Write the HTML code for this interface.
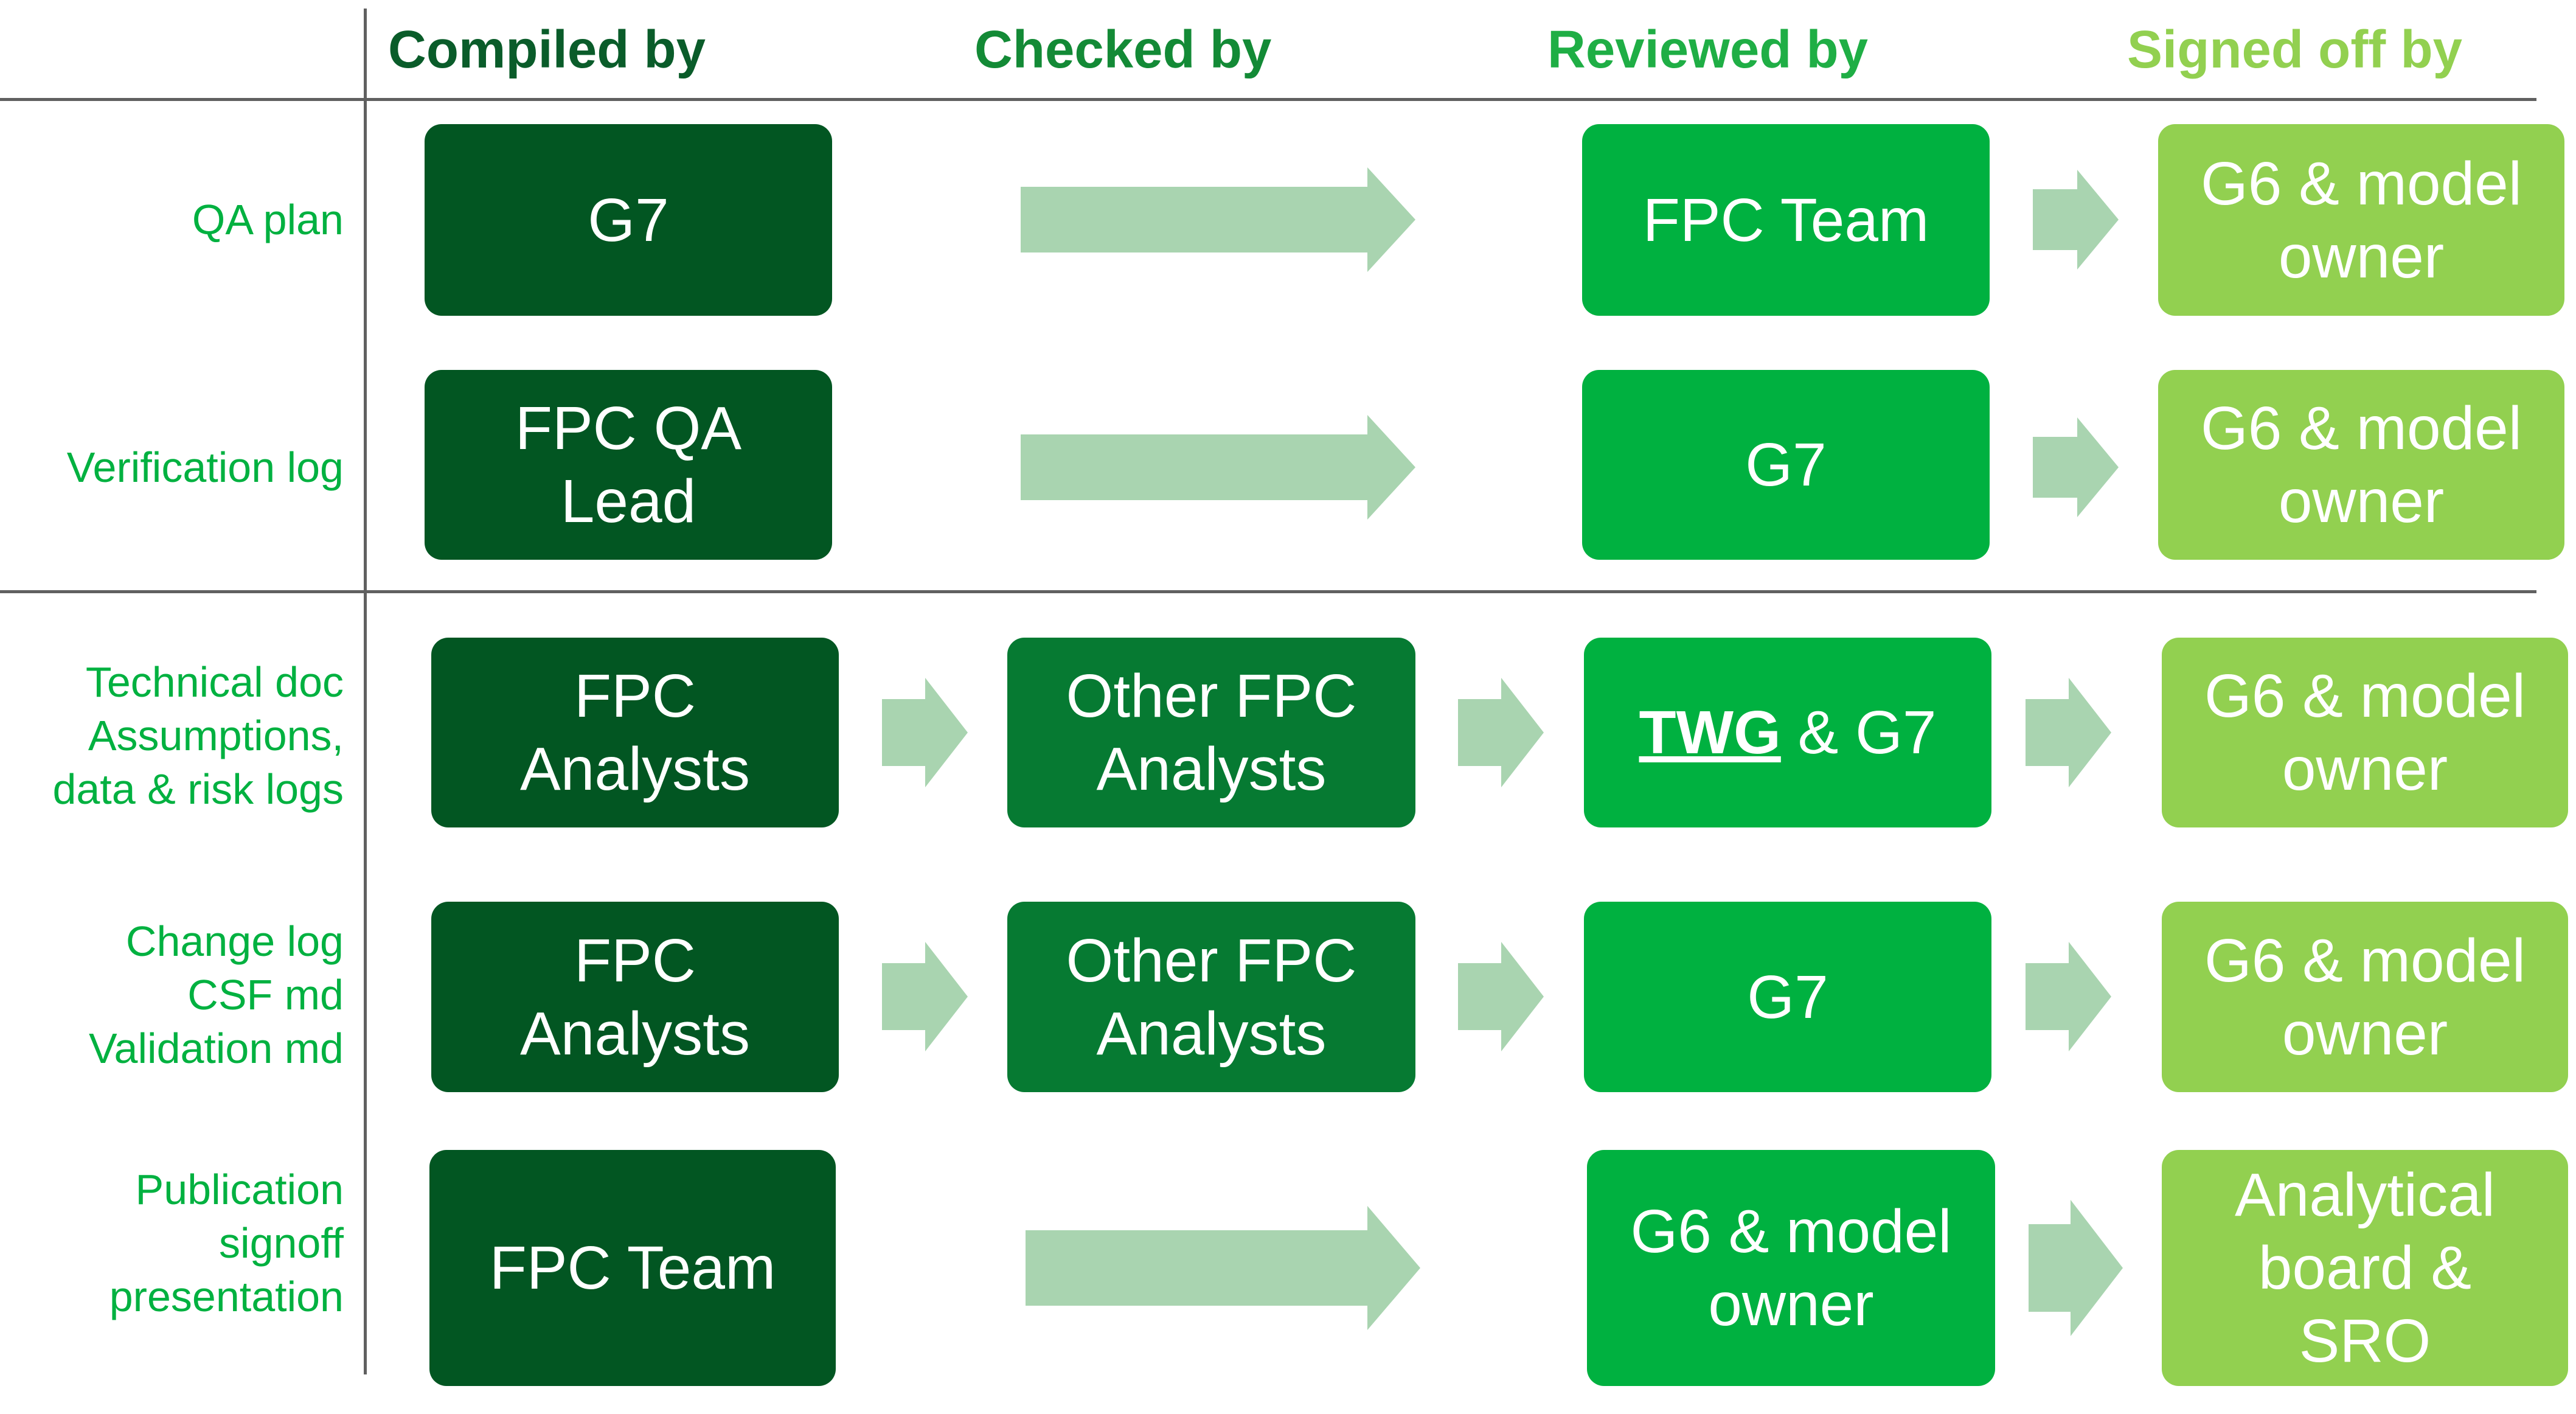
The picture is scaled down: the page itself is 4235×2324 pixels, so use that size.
<!DOCTYPE html>
<html><head><meta charset="utf-8"><style>
*{margin:0;padding:0;box-sizing:border-box}
body{width:4235px;height:2324px;background:#fff;position:relative;overflow:hidden;font-family:"Liberation Sans",sans-serif}
.h{position:absolute;top:32px;font-size:87px;font-weight:bold;white-space:nowrap}
.b{position:absolute;border-radius:28px;color:#fff;display:flex;align-items:center;justify-content:center;text-align:center;font-size:100px;line-height:120px}
.d{background:#025622}.m{background:#067a32}.g{background:#00b140}.l{background:#92d050}
.lab{position:absolute;right:3670px;text-align:right;color:#00b140;font-size:70px;line-height:88px;white-space:nowrap}
.ln{position:absolute;background:#606060}
svg{position:absolute;left:0;top:0}
</style></head><body>
<div class="ln" style="left:598px;top:14px;width:5px;height:2245px"></div>
<div class="ln" style="left:0;top:161px;width:4170px;height:5px"></div>
<div class="ln" style="left:0;top:970px;width:4170px;height:5px"></div>

<div class="h" style="left:638px;color:#0a5c2a">Compiled by</div>
<div class="h" style="left:1602px;color:#138a36">Checked by</div>
<div class="h" style="left:2544px;color:#1fae45">Reviewed by</div>
<div class="h" style="left:3497px;color:#92d050">Signed off by</div>

<div class="lab" style="top:317px">QA plan</div>
<div class="lab" style="top:724px">Verification log</div>
<div class="lab" style="top:1077px">Technical doc<br>Assumptions,<br>data &amp; risk logs</div>
<div class="lab" style="top:1503px">Change log<br>CSF md<br>Validation md</div>
<div class="lab" style="top:1911px">Publication<br>signoff<br>presentation</div>

<svg width="4235" height="2324" fill="#a9d4b0">
<polygon points="1678,307 2248,307 2248,275 2327,361 2248,447 2248,415 1678,415"/>
<polygon points="3342,311 3415,311 3415,279 3483,361 3415,443 3415,411 3342,411"/>
<polygon points="1678,714 2248,714 2248,682 2327,768 2248,854 2248,822 1678,822"/>
<polygon points="3342,718 3415,718 3415,686 3483,768 3415,850 3415,818 3342,818"/>
<g>
<polygon points="1450,1149 1521,1149 1521,1114 1591,1204 1521,1294 1521,1259 1450,1259"/>
<polygon points="2397,1149 2468,1149 2468,1114 2538,1204 2468,1294 2468,1259 2397,1259"/>
<polygon points="3330,1149 3401,1149 3401,1114 3471,1204 3401,1294 3401,1259 3330,1259"/>
</g>
<g transform="translate(0,434)">
<polygon points="1450,1149 1521,1149 1521,1114 1591,1204 1521,1294 1521,1259 1450,1259"/>
<polygon points="2397,1149 2468,1149 2468,1114 2538,1204 2468,1294 2468,1259 2397,1259"/>
<polygon points="3330,1149 3401,1149 3401,1114 3471,1204 3401,1294 3401,1259 3330,1259"/>
</g>
<polygon points="1686,2022 2248,2022 2248,1982 2335,2084 2248,2186 2248,2146 1686,2146"/>
<polygon points="3335,2012 3404,2012 3404,1972 3490,2084 3404,2196 3404,2156 3335,2156"/>
</svg>

<div class="b d" style="left:698px;top:204px;width:670px;height:315px">G7</div>
<div class="b g" style="left:2601px;top:204px;width:670px;height:315px">FPC Team</div>
<div class="b l" style="left:3548px;top:204px;width:668px;height:315px">G6 &amp; model<br>owner</div>

<div class="b d" style="left:698px;top:608px;width:670px;height:312px">FPC QA<br>Lead</div>
<div class="b g" style="left:2601px;top:608px;width:670px;height:312px">G7</div>
<div class="b l" style="left:3548px;top:608px;width:668px;height:312px">G6 &amp; model<br>owner</div>

<div class="b d" style="left:709px;top:1048px;width:670px;height:312px">FPC<br>Analysts</div>
<div class="b m" style="left:1656px;top:1048px;width:671px;height:312px">Other FPC<br>Analysts</div>
<div class="b g" style="left:2604px;top:1048px;width:670px;height:312px"><span><b style="text-decoration:underline">TWG</b> &amp; G7</span></div>
<div class="b l" style="left:3554px;top:1048px;width:668px;height:312px">G6 &amp; model<br>owner</div>

<div class="b d" style="left:709px;top:1482px;width:670px;height:313px">FPC<br>Analysts</div>
<div class="b m" style="left:1656px;top:1482px;width:671px;height:313px">Other FPC<br>Analysts</div>
<div class="b g" style="left:2604px;top:1482px;width:670px;height:313px">G7</div>
<div class="b l" style="left:3554px;top:1482px;width:668px;height:313px">G6 &amp; model<br>owner</div>

<div class="b d" style="left:706px;top:1890px;width:668px;height:388px">FPC Team</div>
<div class="b g" style="left:2609px;top:1890px;width:671px;height:388px">G6 &amp; model<br>owner</div>
<div class="b l" style="left:3554px;top:1890px;width:668px;height:388px">Analytical<br>board &amp;<br>SRO</div>
</body></html>
